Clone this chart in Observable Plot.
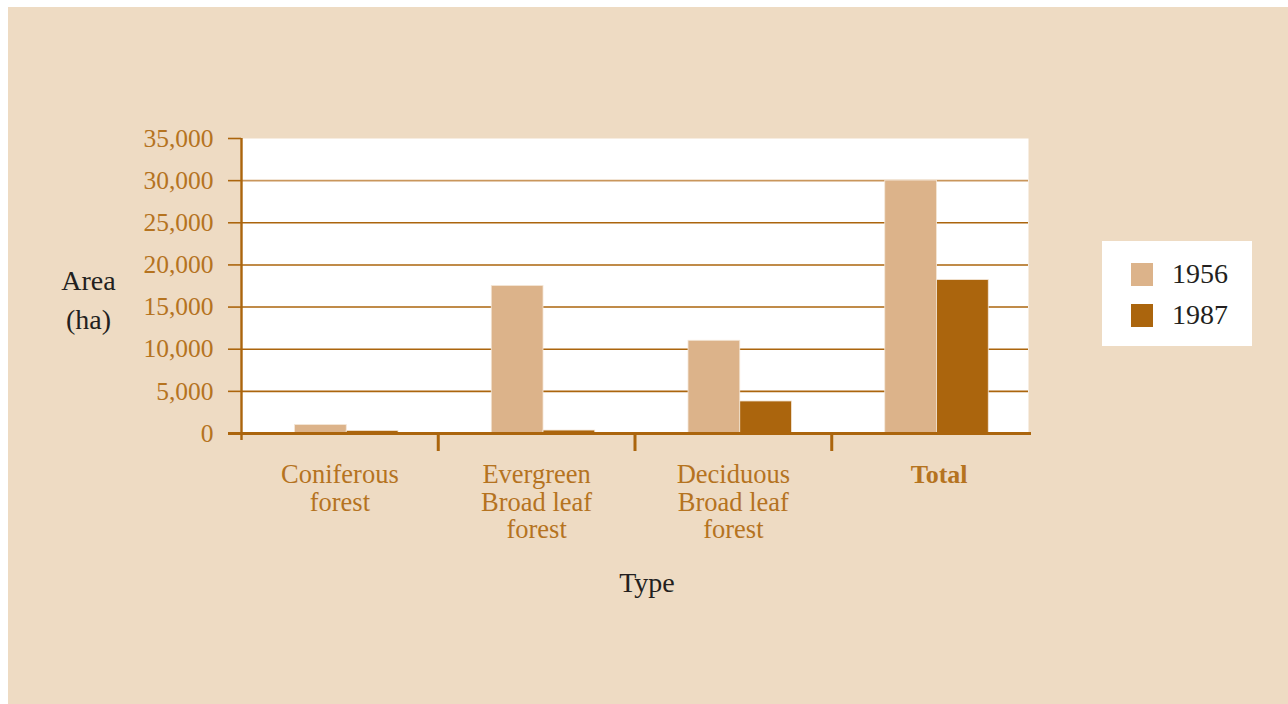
<!DOCTYPE html>
<html>
<head>
<meta charset="utf-8">
<script src="https://cdn.jsdelivr.net/npm/d3@7"></script>
<script src="https://cdn.jsdelivr.net/npm/@observablehq/plot@0.6"></script>
<style>
  html, body { margin: 0; padding: 0; background: #ffffff; width: 1288px; height: 704px; overflow: hidden; }
  #panel { position: absolute; left: 8px; top: 7px; width: 1280px; height: 697px; background: #eedbc3; }
  #chart { position: absolute; left: 0; top: 0; }
  #legend { position: absolute; left: 1102px; top: 241px; width: 150px; height: 105px; background: #ffffff;
            font-family: "Liberation Serif", serif; font-size: 28px; color: #231f20; }
  .item { position: absolute; left: 29px; height: 24px; }
  .sw { position: absolute; left: 0; top: 0; width: 22px; height: 23px; }
  .lab { position: absolute; left: 41px; top: -3px; line-height: 28px; }
</style>
</head>
<body>
<div id="panel"></div>
<div id="chart"></div>
<div id="legend"></div>
<script>
// ---- data ----
const categories = ["Coniferous\nforest", "Evergreen\nBroad leaf\nforest", "Deciduous\nBroad leaf\nforest", "Total"];
const years = ["1956", "1987"];
const values1956 = [1000, 17500, 11000, 30000];
const values1987 = [300, 350, 3800, 18200];
const yTicks = [0, 5000, 10000, 15000, 20000, 25000, 30000, 35000];

// ---- styles ----
const colors = {"1956": "#dcb38a", "1987": "#ab650d"};
const axisColor = "#ab650d";
const labelColor = "#b5731f";
const darkText = "#231f20";
const font = "Liberation Serif, serif";

// bar layout inside each category band (fractions of the band)
const groupOffset = 0.272, barWidth = 0.263;

const bars = [];
categories.forEach((c, i) => {
  years.forEach((yr, j) => {
    const v = (yr === "1956" ? values1956 : values1987)[i];
    bars.push({cat: c, idx: i, year: yr, value: v,
      x1: i + groupOffset + j * barWidth, x2: i + groupOffset + (j + 1) * barWidth});
  });
});
const catData = categories.map((c, i) => ({name: c, idx: i, bold: c === "Total"}));

const plot = Plot.plot({
  width: 1288,
  height: 704,
  marginLeft: 241,
  marginRight: 260,
  marginTop: 138,
  marginBottom: 271,
  style: {background: "transparent", fontFamily: font, overflow: "visible"},
  x: {domain: [0, categories.length], axis: null},
  y: {domain: [0, 35000], axis: null},
  marks: [
    Plot.frame({fill: "white", stroke: null}),
    Plot.gridY({ticks: yTicks.filter(t => t > 0 && t < 30000), stroke: axisColor, strokeOpacity: 1, strokeWidth: 1.6}),
    Plot.gridY({ticks: [30000], stroke: "#c9965c", strokeOpacity: 1, strokeWidth: 1.6}),
    Plot.rectY(bars, {x1: "x1", x2: "x2", y: "value", fill: d => colors[d.year], stroke: "#f4e6d6", strokeWidth: 0.8}),
    Plot.axisY({ticks: yTicks, tickSize: 13, tickPadding: 15, tickFormat: d3.format(","),
      stroke: axisColor, strokeWidth: 1.6, fill: labelColor, fontSize: 25.5, label: null}),
    Plot.ruleX([0], {stroke: axisColor, strokeWidth: 2.4, insetBottom: -7}),
    Plot.ruleY([0], {stroke: axisColor, strokeWidth: 3, insetLeft: -13, insetRight: -3}),
    Plot.axisX({ticks: d3.range(1, categories.length), tickSize: 18, tickFormat: () => "",
      stroke: axisColor, strokeWidth: 3, label: null}),
    Plot.text(catData.filter(d => !d.bold), {x: d => d.idx + 0.5, text: "name", frameAnchor: "bottom",
      lineAnchor: "top", dy: 30, fontSize: 26.5, lineHeight: 1.04, fill: labelColor}),
    Plot.text(catData.filter(d => d.bold), {x: d => d.idx + 0.5, text: "name", frameAnchor: "bottom",
      lineAnchor: "top", dy: 30, dx: 9, fontSize: 26, lineHeight: 1.04, fill: labelColor, fontWeight: "bold"}),
    Plot.text(["Area\n(ha)"], {frameAnchor: "left", text: d => d, dx: -153, dy: 11, textAnchor: "middle",
      fontSize: 28, lineHeight: 1.39, fill: darkText}),
    Plot.text(["Type"], {frameAnchor: "bottom", text: d => d, dx: 12, dy: 158, textAnchor: "middle",
      fontSize: 28, fill: darkText})
  ]
});
document.getElementById("chart").appendChild(plot);

// legend
const legend = document.getElementById("legend");
years.forEach((yr, j) => {
  const item = document.createElement("div");
  item.className = "item";
  item.style.top = (22 + j * 41) + "px";
  item.innerHTML = `<div class="sw" style="background:${colors[yr]}"></div><div class="lab">${yr}</div>`;
  legend.appendChild(item);
});
</script>
</body>
</html>
